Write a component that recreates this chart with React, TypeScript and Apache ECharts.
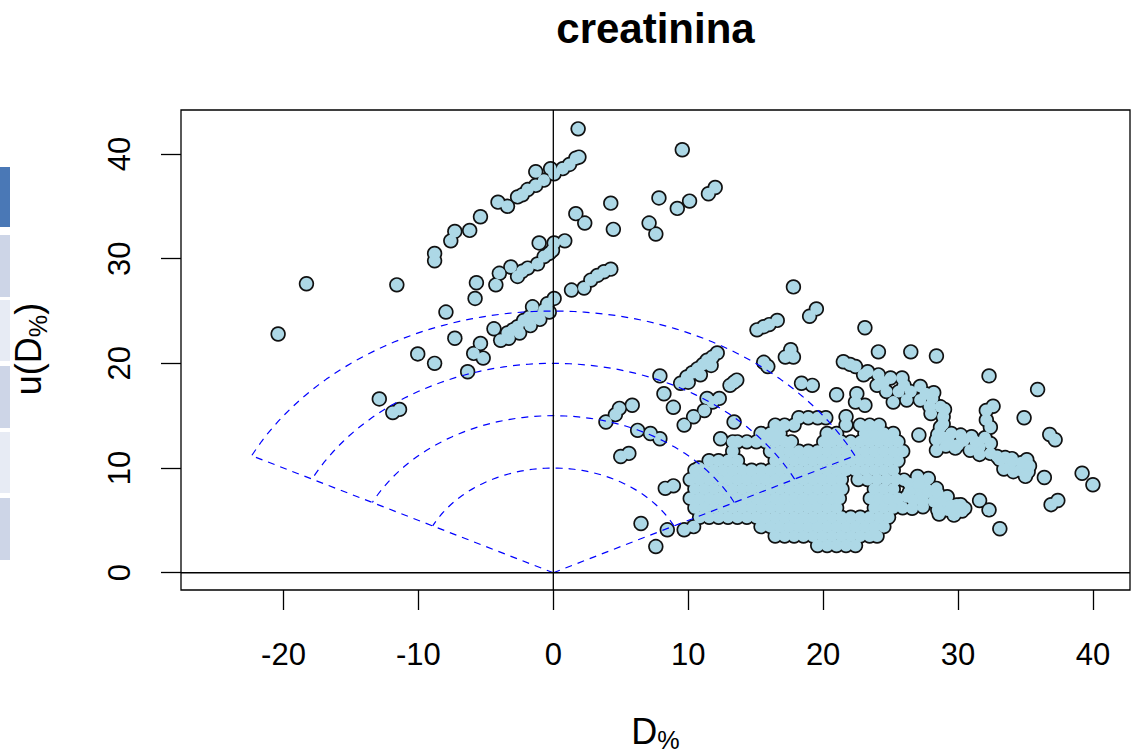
import React, { useEffect, useRef } from "react";
import * as echarts from "echarts";

// ---- axes ----
const xTicks = [-20, -10, 0, 10, 20, 30, 40];
const yTicks = [0, 10, 20, 30, 40];
const xRange = [-27.6, 42.75];
const yRange = [-1.65, 44.2];

// ---- reference fan: radii of the dashed arcs and slope of the two limiting rays ----
const fanRadii = [10, 15, 20, 25];
const fanSlope = 0.5;

// ---- observations: [D%, u(D%)] ----
const leftScatter: [number, number][] = [
  [-20.4, 22.8], [-18.3, 27.6], [-11.6, 27.5], [-8.8, 29.8], [-8.8, 30.5], [-7.6, 31.7],
  [-7.3, 32.6], [-6.2, 32.7], [-5.4, 34.0], [-12.9, 16.6], [-11.9, 15.3], [-11.4, 15.6],
  [-10.05, 20.9], [-8.8, 20.0], [-7.96, 24.9], [-7.3, 22.4], [-5.7, 27.7], [-5.8, 26.2],
  [-4.26, 27.5], [-5.4, 21.9], [-5.9, 20.95], [-5.2, 20.5], [-6.35, 19.2],
];

const stripeUpper: [number, number][] = [
  [-4.1, 35.4], [-3.4, 35.0], [-2.65, 35.9], [-2.3, 36.1], [-1.9, 36.6], [-1.3, 37.0],
  [-1.3, 38.3], [-0.7, 37.5], [-0.2, 38.6], [0.06, 38.1], [0.7, 38.6], [1.2, 39.0],
  [1.67, 39.6], [1.9, 39.7],
];

const stripeMiddle: [number, number][] = [
  [-4.0, 28.6], [-3.15, 29.2], [-2.65, 28.3], [-2.3, 28.8], [-1.9, 29.1], [-1.17, 29.5],
  [-1.05, 31.5], [-0.68, 30.2], [-0.3, 30.5], [-0.06, 30.8], [0.06, 31.5], [0.85, 31.7],
];

const stripeLower: [number, number][] = [
  [-4.4, 23.3], [-3.9, 22.2], [-3.4, 22.9], [-3.0, 23.2], [-2.65, 23.5], [-2.2, 24.1],
  [-1.8, 24.4], [-1.54, 25.4], [-1.17, 24.5], [-0.68, 25.1], [-0.43, 25.7], [0.06, 26.2],
  [1.35, 27.0], [-3.3, 22.4], [-2.5, 22.9], [-1.7, 23.6], [-1.0, 24.2], [-0.3, 24.9],
];

const centralScatter: [number, number][] = [
  [1.84, 42.4], [9.56, 40.4], [4.26, 35.3], [4.45, 32.8], [1.67, 34.3], [2.33, 33.4],
  [2.28, 27.2], [2.78, 27.95], [3.27, 28.4], [3.76, 28.75], [4.26, 29.0],
  [7.83, 35.8], [9.19, 34.8], [10.1, 35.5], [11.5, 36.2], [12.0, 36.8], [7.1, 33.4], [7.6, 32.35],
  [17.8, 27.3], [19.0, 24.5], [19.5, 25.2], [15.1, 23.2], [15.6, 23.5], [16.0, 23.7], [16.6, 24.1],
  [17.6, 21.3], [17.8, 20.6], [17.2, 20.6], [15.6, 20.1], [15.9, 19.7],
  [9.44, 18.1], [9.9, 18.7], [10.3, 19.1], [10.7, 19.5], [11.1, 19.9], [11.4, 20.3], [11.8, 20.6],
  [12.15, 21.0], [10.0, 18.2], [10.9, 18.9], [11.7, 19.8],
  [7.9, 18.8], [8.2, 17.1], [8.9, 15.8], [13.1, 17.9], [13.4, 18.2], [13.6, 18.4], [18.4, 18.1],
  [19.2, 17.9], [21.0, 17.0], [22.5, 17.1], [22.4, 16.3], [23.1, 16.0], [21.7, 14.9],
  [9.7, 14.1], [10.4, 14.9], [11.2, 15.5], [11.8, 16.3], [12.3, 16.65], [11.4, 16.65], [13.4, 14.4],
  [12.4, 12.8], [13.3, 12.5], [6.25, 13.6], [7.2, 13.3], [7.9, 12.8], [4.6, 15.1], [3.9, 14.4],
  [4.9, 15.7], [5.85, 16.0], [5.0, 11.1], [5.6, 11.4], [8.3, 8.06], [8.9, 8.3], [6.5, 4.7],
  [7.6, 2.5], [8.45, 4.1], [9.7, 4.1], [10.4, 4.4], [10.8, 10.0],
];

// dense group, one row per level of u(D%): [u, D% values]
const clusterRows: [number, number[]][] = [
  [2.6, [19.6, 20.3, 21.0, 21.7, 22.4]],
  [3.5, [16.45, 17.15, 17.85, 18.55, 19.25, 19.95, 20.65, 21.35, 22.05, 22.75, 23.45, 24.0]],
  [4.4, [15.4, 16.1, 16.8, 17.5, 18.2, 18.9, 19.6, 20.3, 21.0, 21.7, 22.4, 23.1, 23.8, 24.5]],
  [5.3, [10.85, 11.55, 12.25, 12.95, 13.65, 14.35, 15.05, 15.75, 16.45, 17.15, 17.85, 18.55, 19.25, 19.95, 20.65, 21.35, 22.05, 22.75, 23.45, 24.15, 24.85]],
  [6.2, [10.5, 11.2, 11.9, 12.6, 13.3, 14.0, 14.7, 15.4, 16.1, 16.8, 17.5, 18.2, 18.9, 19.6, 20.3, 21.0, 23.8, 24.5, 25.2, 25.9]],
  [7.1, [10.15, 10.85, 11.55, 12.25, 12.95, 13.65, 14.35, 15.05, 15.75, 16.45, 17.15, 17.85, 18.55, 19.25, 19.95, 20.65, 21.2, 23.5, 24.15, 24.85, 25.55]],
  [8.0, [10.5, 11.2, 11.9, 12.6, 13.3, 14.0, 14.7, 15.4, 16.1, 16.8, 17.5, 18.2, 18.9, 19.6, 20.3, 21.0, 21.4, 23.8, 24.5, 25.2]],
  [8.9, [10.15, 10.85, 11.55, 12.25, 12.95, 13.65, 14.35, 15.05, 15.75, 16.45, 17.15, 17.85, 18.55, 19.25, 19.95, 20.65, 21.35, 22.6, 23.3, 24.0, 24.7, 25.4]],
  [9.8, [10.5, 11.2, 11.9, 12.6, 13.3, 14.0, 14.7, 15.4, 16.1, 16.8, 17.5, 18.2, 18.9, 19.6, 20.3, 21.0, 21.7, 22.4, 23.1, 23.8, 24.5, 25.2]],
  [10.7, [11.55, 12.25, 12.95, 13.65, 16.45, 17.15, 17.85, 18.55, 19.25, 19.95, 20.65, 21.35, 22.05, 22.75, 23.45, 24.15, 24.85, 25.55]],
  [11.6, [13.3, 16.1, 16.8, 17.5, 18.2, 18.9, 19.6, 20.3, 21.0, 21.7, 22.4, 23.1, 23.8, 24.5, 25.2, 25.9]],
  [12.5, [13.65, 14.35, 15.05, 15.75, 16.45, 17.15, 17.65, 20.05, 20.65, 21.35, 22.05, 22.75, 23.45, 24.15, 24.85, 25.55]],
  [13.3, [15.4, 16.1, 16.8, 20.3, 21.0, 23.1, 23.8, 24.5, 25.2]],
  [14.1, [16.45, 17.15, 17.85, 21.7, 22.75, 23.45, 24.15]],
  [14.8, [18.2, 18.9, 19.6, 20.2]],
];

const lowerRightLobe: [number, number][] = [
  [26.0, 8.85], [27.0, 9.2], [27.8, 9.0], [28.4, 8.06], [29.2, 7.26], [29.9, 6.47], [30.5, 6.15],
  [26.2, 7.26], [27.2, 7.42], [28.2, 6.8], [29.2, 6.0], [29.7, 5.5], [26.6, 6.15], [27.4, 6.3],
  [28.6, 5.6], [27.6, 8.1], [26.8, 8.2], [26.4, 8.5], [27.1, 8.6], [26.4, 7.7], [27.8, 7.7],
  [28.5, 7.6], [26.7, 6.9], [27.4, 6.9], [28.8, 6.7], [29.5, 6.4], [28.5, 6.0], [29.8, 5.7],
  [30.3, 5.9], [30.2, 6.5],
];

const rightBand: [number, number][] = [
  [21.5, 20.15], [22.0, 19.9], [22.4, 19.7], [23.3, 19.2], [24.1, 18.9], [25.0, 18.6], [25.85, 18.6],
  [24.0, 17.9], [24.7, 17.3], [25.6, 17.3], [26.5, 17.3], [27.2, 17.8], [25.2, 16.3], [26.2, 16.5],
  [27.2, 16.5], [28.1, 16.65], [28.7, 15.85], [28.9, 14.9], [28.7, 13.9], [28.4, 12.7], [28.4, 11.7],
  [29.4, 12.35], [30.2, 13.15], [31.0, 13.0], [30.9, 11.7], [31.6, 12.0], [32.4, 11.4], [32.4, 12.35],
  [33.1, 10.8], [33.9, 10.45], [34.1, 9.65], [34.6, 9.8], [35.1, 10.8], [35.2, 9.65], [35.0, 9.2],
  [32.1, 15.5], [32.6, 15.9], [32.1, 14.6], [32.4, 13.9], [29.5, 13.3], [30.0, 12.2], [29.0, 12.9],
  [23.0, 18.9], [24.5, 18.2], [26.0, 17.9], [27.6, 17.1], [28.2, 17.2], [27.9, 15.9], [28.0, 15.2],
  [29.0, 15.6], [28.9, 14.2], [28.5, 13.2], [29.1, 12.1], [29.8, 11.9], [30.4, 12.6], [31.3, 12.5],
  [32.0, 12.9], [31.6, 11.3], [32.9, 11.1], [33.5, 11.0], [34.0, 10.9], [33.4, 9.9], [34.7, 10.5],
  [35.3, 10.2],
];

const farRight: [number, number][] = [
  [23.1, 23.4], [24.1, 21.1], [26.5, 21.1], [28.4, 20.7], [32.3, 18.8], [35.9, 17.5], [34.9, 14.8],
  [36.8, 13.2], [37.2, 12.7], [36.4, 9.1], [36.9, 6.5], [37.4, 6.9], [33.1, 4.2], [31.6, 6.9],
  [32.3, 6.0], [39.2, 9.5], [40.0, 8.4], [27.1, 13.15],
];

const FONT = '"Liberation Sans", Arial, sans-serif';

function textWidth(text: string, size: number, weight = "normal"): number {
  const ctx = document.createElement("canvas").getContext("2d");
  if (!ctx) return text.length * size * 0.55;
  ctx.font = `${weight} ${size}px ${FONT}`;
  return ctx.measureText(text).width;
}

export default function App() {
  const ref = useRef<HTMLDivElement>(null);

  useEffect(() => {
    if (!ref.current) return;
    const chart = echarts.init(ref.current, null, { renderer: "svg" });

    const points: [number, number][] = [
      ...leftScatter,
      ...stripeUpper,
      ...stripeMiddle,
      ...stripeLower,
      ...centralScatter,
      ...clusterRows.flatMap(([u, ds]) => ds.map((d) => [d, u] as [number, number])),
      ...lowerRightLobe,
      ...rightBand,
      ...farRight,
    ];

    // dashed fan: arcs between the two limiting rays, plus the rays themselves
    const a0 = Math.atan(fanSlope);
    const steps = 72;
    const fanStyle = { color: "#0000ff", width: 1.2, type: [7, 6] as number[] };
    const fanSeries: any[] = fanRadii.map((r) => {
      const data: number[][] = [];
      for (let i = 0; i <= steps; i++) {
        const t = a0 + ((Math.PI - 2 * a0) * i) / steps;
        data.push([r * Math.cos(t), r * Math.sin(t)]);
      }
      return {
        type: "line", data, showSymbol: false, symbol: "none", silent: true, z: 4,
        lineStyle: fanStyle,
      };
    });
    const rMax = Math.max(...fanRadii);
    [a0, Math.PI - a0].forEach((t) => {
      fanSeries.push({
        type: "line", data: [[0, 0], [rMax * Math.cos(t), rMax * Math.sin(t)]],
        showSymbol: false, symbol: "none", silent: true, z: 4, lineStyle: fanStyle,
      });
    });

    // axis titles with subscript "%"
    const tickSize = 31;
    const labSize = 36;
    const subSize = labSize * 0.7;
    const wD = textWidth("D", labSize);
    const wPct = textWidth("%", subSize);
    const xLabStart = 655.5 - (wD + wPct) / 2;
    const wU = textWidth("u(D", labSize);
    const wClose = textWidth(")", labSize);
    const yLabLen = wU + wPct + wClose;
    const txt = (text: string, size: number) => ({
      text, fontSize: size, fontFamily: FONT, fill: "#000",
    });

    const stripColors = ["#4a78b6", "#cdd5e7", "#e7ebf4", "#cdd5e7", "#e7ebf4", "#cdd5e7"];
    const stripTops = [167, 235, 300, 366, 432, 498];
    const stripHeights = [60, 62, 61, 62, 61, 62];

    const option: any = {
      animation: false,
      backgroundColor: "#ffffff",
      grid: {
        left: 181, top: 110, width: 949, height: 480,
        show: true, borderColor: "#000", borderWidth: 1.3, backgroundColor: "transparent",
      },
      xAxis: {
        type: "value", min: xRange[0], max: xRange[1],
        splitLine: { show: false },
        axisLine: { show: false, onZero: false },
        axisTick: { show: true, customValues: xTicks, length: 20, lineStyle: { color: "#000", width: 1.3 } },
        axisLabel: { customValues: xTicks, margin: 49, fontSize: tickSize, color: "#000", fontFamily: FONT },
      },
      yAxis: {
        type: "value", min: yRange[0], max: yRange[1],
        splitLine: { show: false },
        axisLine: { show: false, onZero: false },
        axisTick: { show: true, customValues: yTicks, length: 20, lineStyle: { color: "#000", width: 1.3 } },
        axisLabel: { customValues: yTicks, rotate: 90, margin: 46, fontSize: tickSize, color: "#000", fontFamily: FONT },
      },
      series: [
        {
          // outline layer: the union of all discs gives the dark contour
          type: "scatter", data: points, symbol: "circle", symbolSize: 15.4, silent: true, z: 2,
          itemStyle: { color: "#111111", opacity: 1 },
        },
        {
          type: "scatter", data: points, symbol: "circle", symbolSize: 12, silent: true, z: 3,
          itemStyle: { color: "#add8e6", opacity: 1 },
        },
        ...fanSeries,
        {
          type: "line", data: [[0, yRange[0]], [0, yRange[1]]], showSymbol: false, symbol: "none",
          silent: true, z: 5, lineStyle: { color: "#000", width: 1.3 },
        },
        {
          type: "line", data: [[xRange[0], 0], [xRange[1], 0]], showSymbol: false, symbol: "none",
          silent: true, z: 5, lineStyle: { color: "#000", width: 1.3 },
        },
      ],
      graphic: [
        ...stripColors.map((c, i) => ({
          type: "rect", shape: { x: 0, y: stripTops[i], width: 10, height: stripHeights[i] },
          style: { fill: c }, silent: true,
        })),
        {
          type: "text", x: 655.5, y: 28,
          style: { ...txt("creatinina", 42), fontWeight: "bold", align: "center", verticalAlign: "middle" },
        },
        { type: "text", x: xLabStart, y: 731, style: { ...txt("D", labSize), align: "left", verticalAlign: "middle" } },
        { type: "text", x: xLabStart + wD, y: 740, style: { ...txt("%", subSize), align: "left", verticalAlign: "middle" } },
        {
          type: "group", x: 28, y: 349, rotation: Math.PI / 2,
          children: [
            { type: "text", x: -yLabLen / 2, y: 0, style: { ...txt("u(D", labSize), align: "left", verticalAlign: "middle" } },
            { type: "text", x: -yLabLen / 2 + wU, y: 10, style: { ...txt("%", subSize), align: "left", verticalAlign: "middle" } },
            { type: "text", x: -yLabLen / 2 + wU + wPct, y: 0, style: { ...txt(")", labSize), align: "left", verticalAlign: "middle" } },
          ],
        },
      ],
    };

    chart.setOption(option);
    return () => chart.dispose();
  }, []);

  return (
    <div
      ref={ref}
      style={{ position: "fixed", left: 0, top: 0, width: 1134, height: 756, background: "#fff" }}
    />
  );
}
